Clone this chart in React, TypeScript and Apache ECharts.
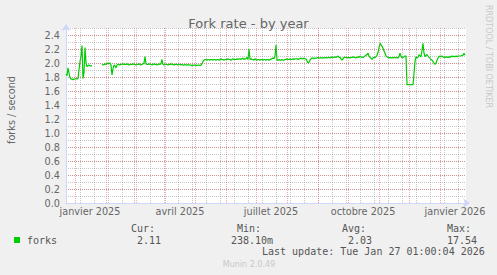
import React, { useEffect, useRef } from "react";
import * as echarts from "echarts";

const DAY = 86400000;
const START = Date.UTC(2024, 11, 23);
const END = START + 400 * DAY;

// daily fork rate (forks / second), one value per day from 23 Dec 2024
const forks: (number | null)[] = [
  1.84, 1.82, 1.93, 1.86, 1.79, 1.77, 1.77, 1.76, 1.77, 1.77,
  1.78, 1.77, 1.78, 1.90, 2.02, 2.10, 2.25, 1.78, 1.86, 2.22,
  2.00, 1.95, 1.96, 1.97, 1.96, 1.96, 1.96, null, null, null,
  null, null, null, null, null, null, 1.98, 1.97, 1.98, 1.99,
  1.98, 1.99, 2.00, 1.99, 2.00, 1.97, 1.83, 1.92, 1.97, 1.96,
  1.93, 1.97, 1.98, 1.98, 1.97, 1.98, 1.98, 1.99, 1.98, 1.98,
  1.98, 1.99, 1.98, 1.97, 1.98, 1.98, 1.98, 1.99, 1.98, 1.98,
  1.97, 1.98, 1.98, 1.99, 1.98, 1.97, 1.98, 1.99, 2.00, 2.09,
  1.99, 1.98, 1.98, 1.99, 1.98, 1.98, 1.97, 1.98, 1.99, 1.98,
  1.98, 1.97, 1.98, 1.99, 1.98, 1.99, 2.05, 1.98, 1.97, 1.98,
  1.98, 1.98, 1.97, 1.98, 1.98, 1.99, 1.98, 1.98, 1.97, 1.98,
  1.98, 1.98, 1.97, 1.98, 1.98, 1.97, 1.98, 1.97, 1.97, 1.98,
  1.97, 1.97, 1.98, 1.97, 1.97, 1.97, 1.96, 1.97, 1.97, 1.97,
  1.97, 1.96, 1.97, 1.97, 1.96, 1.97, 1.99, 2.02, 2.04, 2.05,
  2.05, 2.04, 2.05, 2.05, 2.04, 2.05, 2.05, 2.04, 2.05, 2.05,
  2.04, 2.05, 2.05, 2.04, 2.05, 2.06, 2.05, 2.05, 2.04, 2.05,
  2.05, 2.05, 2.06, 2.05, 2.05, 2.04, 2.05, 2.06, 2.05, 2.05,
  2.05, 2.06, 2.05, 2.06, 2.06, 2.05, 2.06, 2.07, 2.05, 2.06,
  2.06, 2.08, 2.05, 2.20, 2.05, 2.06, 2.05, 2.05, 2.04, 2.06,
  2.05, 2.04, 2.05, 2.05, 2.04, 2.05, 2.05, 2.04, 2.05, 2.05,
  2.04, 2.05, 2.05, 2.04, 2.05, 2.06, 2.06, 2.07, 2.06, 2.10,
  2.26, 2.04, 2.04, 2.05, 2.04, 2.04, 2.05, 2.04, 2.04, 2.05,
  2.05, 2.06, 2.05, 2.05, 2.06, 2.05, 2.05, 2.06, 2.05, 2.06,
  2.06, 2.06, 2.05, 2.06, 2.06, 2.07, 2.06, 2.06, 2.07, 2.06,
  2.06, 2.03, 2.00, 2.01, 2.04, 2.06, 2.07, 2.07, 2.06, 2.07,
  2.07, 2.07, 2.08, 2.07, 2.07, 2.08, 2.07, 2.07, 2.08, 2.07,
  2.08, 2.07, 2.08, 2.08, 2.07, 2.08, 2.09, 2.08, 2.08, 2.09,
  2.08, 2.09, 2.10, 2.08, 2.08, 2.06, 2.04, 2.06, 2.08, 2.08,
  2.08, 2.07, 2.08, 2.08, 2.07, 2.08, 2.08, 2.09, 2.08, 2.08,
  2.07, 2.08, 2.09, 2.08, 2.10, 2.09, 2.08, 2.08, 2.09, 2.10,
  2.11, 2.12, 2.14, 2.10, 2.08, 2.07, 2.05, 2.07, 2.08, 2.08,
  2.09, 2.11, 2.15, 2.22, 2.28, 2.26, 2.24, 2.21, 2.17, 2.14,
  2.10, 2.09, 2.08, 2.07, 2.08, 2.07, 2.08, 2.07, 2.08, 2.08,
  2.07, 2.08, 2.07, 2.09, 2.14, 2.10, 2.07, 2.08, 2.09, 2.10,
  2.10, 1.69, 1.69, 1.69, 1.69, 1.69, 1.69, 1.69, 1.85, 2.02,
  2.09, 2.07, 2.08, 2.12, 2.10, 2.09, 2.18, 2.28, 2.14, 2.09,
  2.11, 2.12, 2.10, 2.08, 2.07, 2.05, 2.04, 2.02, 2.00, 1.98,
  2.00, 2.04, 2.07, 2.09, 2.10, 2.09, 2.10, 2.09, 2.08, 2.09,
  2.08, 2.09, 2.08, 2.09, 2.08, 2.10, 2.09, 2.10, 2.09, 2.09,
  2.10, 2.09, 2.10, 2.10, 2.10, 2.10, 2.11, 2.11, 2.14, 2.11,
];

// month starts (major grid)
const monthStarts: [number, number][] = [
  [2025, 0], [2025, 1], [2025, 2], [2025, 3], [2025, 4], [2025, 5], [2025, 6],
  [2025, 7], [2025, 8], [2025, 9], [2025, 10], [2025, 11], [2026, 0],
];

// labelled months and their texts
const labelMonths: [number, number][] = [[2025, 0], [2025, 3], [2025, 6], [2025, 9], [2026, 0]];
const labelTexts = ["janvier 2025", "avril 2025", "juillet 2025", "octobre 2025", "janvier 2026"];

// minor grid: every second Monday
const firstMinorMonday = Date.UTC(2025, 0, 6);
const minorStepDays = 14;

const legendHeaders = ["Cur:", "Min:", "Avg:", "Max:"];
const legendValues = ["2.11", "238.10m", "2.03", "17.54"];
const seriesName = "forks";
const lastUpdate = "Last update: Tue Jan 27 01:00:04 2026";

export default function App() {
  const ref = useRef<HTMLDivElement>(null);
  useEffect(() => {
    if (!ref.current) return;
    const chart = echarts.init(ref.current, null, { renderer: "svg" });

    const HALF = DAY / 2; // centre 1px grid lines on a pixel
    const forkData = forks.map((v, i) => [START + i * DAY, v]);
    const monthTimes = monthStarts.map(([y, m]) => Date.UTC(y, m, 1) + HALF);
    const labelTimes = labelMonths.map(([y, m]) => Date.UTC(y, m, 1) + 15 * DAY);
    const minorTimes: number[] = [];
    for (let t = firstMinorMonday; t < END; t += minorStepDays * DAY) minorTimes.push(t + HALF);

    const axisColor = "#CFD6F8";
    const gridColor = "rgba(143,143,143,0.5)";
    const mgridColor = "rgba(222,79,79,0.48)";
    const fontColor = "#666666";
    const mono = '"DejaVu Sans Mono", monospace';
    const sans = '"DejaVu Sans", sans-serif';

    const headerX = [131, 237, 342, 447];
    const valueX = [137, 231, 348, 447];

    const graphics: any[] = [
      {
        type: "text", x: 11, y: 110, rotation: Math.PI / 2,
        style: { text: "forks / second", fill: fontColor, fontSize: 9.7, fontFamily: sans, align: "center", verticalAlign: "middle", textAlign: "center", textVerticalAlign: "middle" },
      },
      {
        type: "text", x: 488, y: 5, rotation: -Math.PI / 2,
        style: { text: "RRDTOOL / TOBI OETIKER", fill: "#C8C8C8", fontSize: 8, fontFamily: sans, align: "left", verticalAlign: "middle", textAlign: "left", textVerticalAlign: "middle" },
      },
      { type: "rect", shape: { x: 14, y: 237, width: 6, height: 6 }, style: { fill: "#00CC00" } },
      {
        type: "text", x: 27, y: 240,
        style: { text: seriesName, fill: "#555", fontSize: 10, fontFamily: mono, align: "left", verticalAlign: "middle", textAlign: "left", textVerticalAlign: "middle" },
      },
      {
        type: "text", x: 262, y: 251.5,
        style: { text: lastUpdate, fill: "#555", fontSize: 10, fontFamily: mono, align: "left", verticalAlign: "middle", textAlign: "left", textVerticalAlign: "middle" },
      },
      {
        type: "text", x: 249, y: 264,
        style: { text: "Munin 2.0.49", fill: "#C8C8C8", fontSize: 8, fontFamily: sans, align: "center", verticalAlign: "middle", textAlign: "center", textVerticalAlign: "middle" },
      },
    ];
    legendHeaders.forEach((h, i) => {
      graphics.push({
        type: "text", x: headerX[i], y: 228,
        style: { text: h, fill: "#555", fontSize: 10, fontFamily: mono, align: "left", verticalAlign: "middle", textAlign: "left", textVerticalAlign: "middle" },
      });
      graphics.push({
        type: "text", x: valueX[i], y: 240,
        style: { text: legendValues[i], fill: "#555", fontSize: 10, fontFamily: mono, align: "left", verticalAlign: "middle", textAlign: "left", textVerticalAlign: "middle" },
      });
    });

    const option: any = {
      animation: false,
      backgroundColor: "#F0F0F0",
      textStyle: { fontFamily: sans },
      title: {
        text: "Fork rate - by year", left: "center", top: 12,
        textStyle: { fontSize: 13, fontWeight: "normal", color: fontColor, fontFamily: sans },
      },
      grid: { left: 66, top: 28, width: 400, height: 175, show: true, backgroundColor: "#FFFFFF", borderWidth: 0 },
      xAxis: {
        type: "value", min: START, max: END,
        axisLine: { show: true, symbol: ["none", "arrow"], symbolSize: [7, 7], symbolOffset: [0, 4], lineStyle: { color: axisColor, width: 1 } },
        axisTick: { show: false },
        splitLine: { show: false },
        axisLabel: {
          customValues: labelTimes,
          formatter: (v: number) => { const k = labelTimes.indexOf(v); return k >= 0 ? labelTexts[k] : ""; },
          color: fontColor, fontSize: 9.7, fontFamily: sans, margin: 3, hideOverlap: false,
        },
      },
      yAxis: [
        {
          type: "value", position: "left", min: 0, max: 2.5, interval: 0.1,
          axisLine: { show: false }, axisTick: { show: false }, axisLabel: { show: false },
          splitLine: { show: true, showMinLine: false, showMaxLine: true, lineStyle: { color: gridColor, type: [1, 1], width: 1 } },
        },
        {
          type: "value", position: "left", min: 0, max: 2.5, interval: 0.2,
          axisLine: { show: true, onZero: false, symbol: ["none", "arrow"], symbolSize: [7, 7], symbolOffset: [0, 4], lineStyle: { color: axisColor, width: 1 } },
          axisTick: { show: false },
          axisLabel: { formatter: (v: number) => v.toFixed(1), showMaxLabel: false, margin: 6, color: fontColor, fontSize: 9.7, fontFamily: sans },
          splitLine: { show: true, showMinLine: false, showMaxLine: false, lineStyle: { color: mgridColor, type: [1, 1], width: 1 } },
        },
      ],
      series: [
        {
          type: "line", data: [], z: 1, silent: true,
          markLine: {
            silent: true, symbol: ["none", "none"], label: { show: false }, animation: false,
            lineStyle: { color: gridColor, type: [1, 1], width: 1 },
            emphasis: { disabled: true },
            data: minorTimes.map((t) => ({ xAxis: t })),
          },
        },
        {
          type: "line", data: [], z: 1, silent: true,
          markLine: {
            silent: true, symbol: ["none", "none"], label: { show: false }, animation: false,
            lineStyle: { color: mgridColor, type: [1, 1], width: 1 },
            emphasis: { disabled: true },
            data: monthTimes.map((t) => ({ xAxis: t })),
          },
        },
        {
          type: "line", name: seriesName, data: forkData, z: 3,
          showSymbol: false, symbol: "none", connectNulls: false,
          lineStyle: { color: "#00CC00", width: 1.2 },
          emphasis: { disabled: true },
        },
      ],
      graphic: graphics,
    };
    chart.setOption(option);
    return () => chart.dispose();
  }, []);
  return <div ref={ref} style={{ position: "fixed", left: 0, top: 0, width: 497, height: 275 }} />;
}
